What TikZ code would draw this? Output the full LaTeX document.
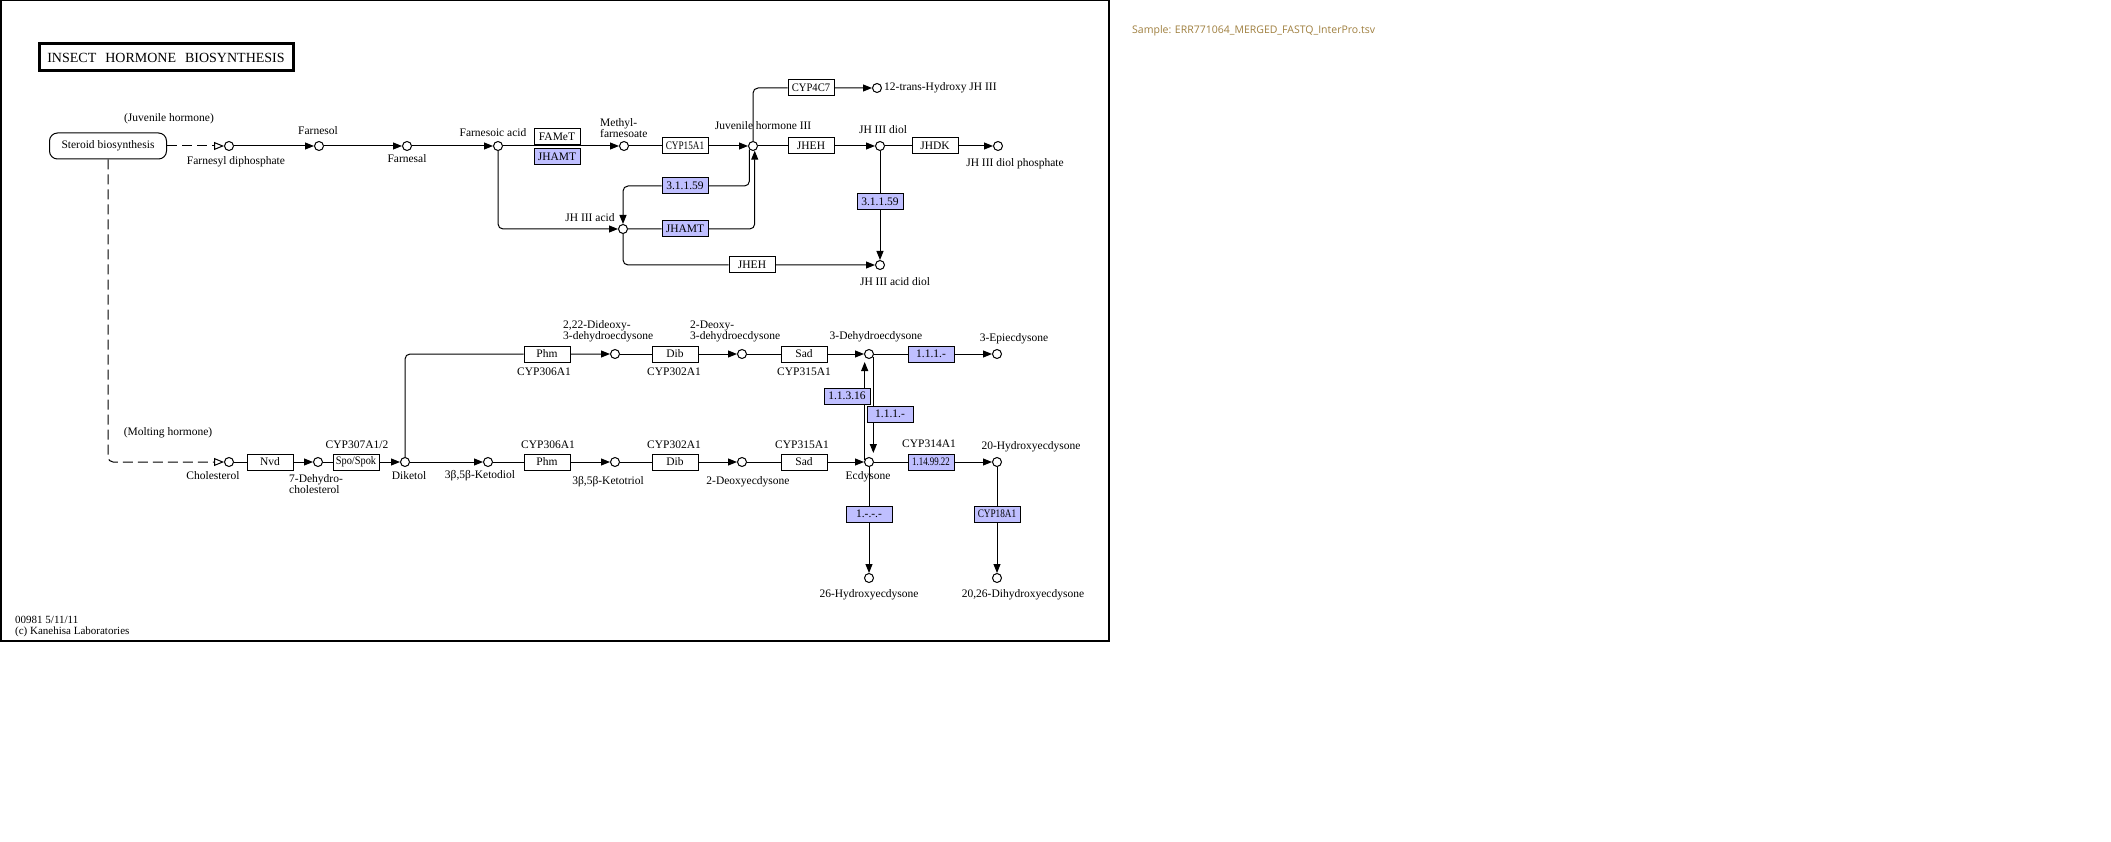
\documentclass[tikz,border=0pt]{standalone}
\usepackage{fontspec}
\setmainfont{Liberation Serif}
\newfontfamily\samplefont{Open Sans}
\usepackage{graphicx}
\usetikzlibrary{arrows.meta,backgrounds,calc}
\definecolor{hitblue}{HTML}{BFBFFF}
\definecolor{samplegold}{HTML}{9F7F3F}
\newcommand{\keggfont}{\fontsize{11.5}{11}\selectfont}
\newcommand{\squeeze}[2]{\scalebox{#1}[1]{#2}}
\tikzset{
  link/.style={line width=1pt},
  rxn/.style={link,-{Triangle[length=9pt,width=7pt]}},
  maplink/.style={link,dash pattern=on 10pt off 5pt,-{Triangle[open,length=10pt,width=8pt]}},
  cpd/.style={circle,draw,line width=1pt,fill=white,minimum size=9pt,inner sep=0pt},
  enzyme/.style={draw,line width=1pt,fill=white,minimum width=46pt,minimum height=16pt,inner sep=0pt,font=\keggfont},
  hit/.style={enzyme,fill=hitblue},
  lbl/.style={inner sep=0pt,font=\keggfont},
  mlbl/.style={lbl,align=left,anchor=west}
}
\begin{document}
\begin{tikzpicture}[x=1pt,y=-1pt]
  \useasboundingbox (0,0) rectangle (2111,842);
  \draw[line width=1.5pt] (0.75,0.75) rectangle (1109,641);
  \node[draw,line width=3pt,minimum width=254pt,minimum height=27pt,inner sep=0pt,font=\fontsize{14}{14}\selectfont] (title) at (166,57.5) {INSECT\hspace{9pt}HORMONE\hspace{9pt}BIOSYNTHESIS};
  \node[anchor=west,inner sep=0pt,font=\samplefont\fontsize{10.5}{11}\selectfont,text=samplegold] (sample) at (1132,31) {Sample: ERR771064\_MERGED\_FASTQ\_InterPro.tsv};
  \node[anchor=west,align=left,inner sep=0pt,font=\fontsize{11}{11}\selectfont] (copy) at (15,626.5) {00981 5/11/11\\(c) Kanehisa Laboratories};
  \node[draw,line width=1pt,rounded corners=8pt,minimum width=117pt,minimum height=26pt,inner sep=0pt,font=\keggfont] (steroid) at (108,146) {Steroid biosynthesis};
  % juvenile hormone branch
  \node[cpd] (fpp) at (229,146) {};
  \node[cpd] (fol) at (319,146) {};
  \node[cpd] (fal) at (407,146) {};
  \node[cpd] (faa) at (498,146) {};
  \node[cpd] (mf) at (624,146) {};
  \node[cpd] (jh) at (753,146) {};
  \node[cpd] (hjh) at (877,88) {};
  \node[cpd] (jhd) at (880,146) {};
  \node[cpd] (jhdp) at (998,146) {};
  \node[cpd] (jha) at (623,229) {};
  \node[cpd] (jhad) at (880,265) {};
  \node[enzyme] (famet) at (557,136.5) {FAMeT};
  \node[hit] (jhamt1) at (557,156.5) {JHAMT};
  \node[enzyme] (cyp15) at (685,146) {\squeeze{0.8}{CYP15A1}};
  \node[enzyme] (cyp4c7) at (811,88) {\squeeze{0.92}{CYP4C7}};
  \node[enzyme] (jheh1) at (811,146) {JHEH};
  \node[enzyme] (jhdk) at (935,146) {JHDK};
  \node[hit] (hyd1) at (685,186) {3.1.1.59};
  \node[hit] (jhamt2) at (685,229) {JHAMT};
  \node[enzyme] (jheh2) at (752,265) {JHEH};
  \node[hit] (hyd2) at (880,202) {3.1.1.59};
  \node[lbl] (l-jhbranch) at (169,119) {(Juvenile hormone)};
  \node[lbl] (l-fpp) at (236,162) {Farnesyl diphosphate};
  \node[lbl] (l-fol) at (318,131) {Farnesol};
  \node[lbl] (l-fal) at (407,159) {Farnesal};
  \node[lbl] (l-faa) at (493,133) {Farnesoic acid};
  \node[mlbl] (l-mf) at (600,128.5) {Methyl-\\farnesoate};
  \node[lbl] (l-jh) at (763,126) {Juvenile hormone III};
  \node[lbl,anchor=west] (l-hjh) at (884,88) {12-trans-Hydroxy JH III};
  \node[lbl] (l-jhd) at (883,130) {JH III diol};
  \node[lbl] (l-jhdp) at (1015,164) {JH III diol phosphate};
  \node[lbl] (l-jha) at (590,218) {JH III acid};
  \node[lbl] (l-jhad) at (895,282) {JH III acid diol};
  % molting hormone branch
  \node[cpd] (chol) at (229,462) {};
  \node[cpd] (dhc) at (318,462) {};
  \node[cpd] (dik) at (405,462) {};
  \node[cpd] (kdiol) at (488,462) {};
  \node[cpd] (ktriol) at (615,462) {};
  \node[cpd] (dec) at (742,462) {};
  \node[cpd] (ecd) at (869,462) {};
  \node[cpd] (hec) at (997,462) {};
  \node[cpd] (hec26) at (869,578) {};
  \node[cpd] (dhec) at (997,578) {};
  \node[cpd] (ddd) at (615,354) {};
  \node[cpd] (dd) at (742,354) {};
  \node[cpd] (dhe) at (869,354) {};
  \node[cpd] (epi) at (997,354) {};
  \node[enzyme] (nvd) at (270,462) {Nvd};
  \node[enzyme] (spo) at (356,462) {\squeeze{0.9}{Spo/Spok}};
  \node[enzyme] (phm1) at (547,354) {Phm};
  \node[enzyme] (dib1) at (675,354) {Dib};
  \node[enzyme] (sad1) at (804,354) {Sad};
  \node[enzyme] (phm2) at (547,462) {Phm};
  \node[enzyme] (dib2) at (675,462) {Dib};
  \node[enzyme] (sad2) at (804,462) {Sad};
  \node[hit] (red1) at (931,354) {1.1.1.-};
  \node[hit] (mono) at (931,462) {\squeeze{0.77}{1.14.99.22}};
  \node[hit] (oxi) at (847,396) {1.1.3.16};
  \node[hit] (red2) at (890,414) {1.1.1.-};
  \node[hit] (ox26) at (869,514) {1.-.-.-};
  \node[hit] (cyp18) at (997,514) {\squeeze{0.8}{CYP18A1}};
  \node[lbl] (l-mhbranch) at (168,433) {(Molting hormone)};
  \node[lbl] (l-chol) at (213,476) {Cholesterol};
  \node[mlbl] (l-dhc) at (289,484.5) {7-Dehydro-\\cholesterol};
  \node[lbl] (l-spo) at (357,445) {CYP307A1/2};
  \node[lbl] (l-dik) at (409,476) {Diketol};
  \node[lbl] (l-kdiol) at (480,476) {3β,5β-Ketodiol};
  \node[lbl] (l-phm1) at (544,372) {CYP306A1};
  \node[lbl] (l-dib1) at (674,372) {CYP302A1};
  \node[lbl] (l-sad1) at (804,372) {CYP315A1};
  \node[lbl] (l-phm2) at (548,445) {CYP306A1};
  \node[lbl] (l-dib2) at (674,445) {CYP302A1};
  \node[lbl] (l-sad2) at (802,445) {CYP315A1};
  \node[lbl] (l-ktriol) at (608,482) {3β,5β-Ketotriol};
  \node[lbl] (l-dec) at (748,482) {2-Deoxyecdysone};
  \node[lbl] (l-ecd) at (868,477) {Ecdysone};
  \node[mlbl] (l-ddd) at (563,331.5) {2,22-Dideoxy-\\3-dehydroecdysone};
  \node[mlbl] (l-dd) at (690,331.5) {2-Deoxy-\\3-dehydroecdysone};
  \node[lbl] (l-dhe) at (876,337) {3-Dehydroecdysone};
  \node[lbl] (l-epi) at (1014,339) {3-Epiecdysone};
  \node[lbl] (l-mono) at (929,444) {CYP314A1};
  \node[lbl] (l-hec) at (1031,447) {20-Hydroxyecdysone};
  \node[lbl] (l-hec26) at (869,595) {26-Hydroxyecdysone};
  \node[lbl] (l-dhec) at (1023,595) {20,26-Dihydroxyecdysone};
  \begin{scope}[on background layer,rounded corners=5pt]
    \draw[maplink] (steroid) -- (fpp);
    \draw[maplink] (steroid.south) |- (chol.west);
    \draw[rxn] (fpp) -- (fol);
    \draw[rxn] (fol) -- (fal);
    \draw[rxn] (fal) -- (faa);
    \draw[rxn] (faa) -- (mf);
    \draw[rxn] (mf) -- (cyp15) -- (jh);
    \draw[rxn] (jh.north) |- (cyp4c7) -- (hjh);
    \draw[rxn] (jh) -- (jheh1) -- (jhd);
    \draw[rxn] (jhd) -- (jhdk) -- (jhdp);
    \draw[rxn] (jhd) -- (hyd2) -- (jhad);
    \draw[rxn] (jh.-135) |- (hyd1) -| (jha.north);
    \draw[rxn] (faa.south) |- (jha.west);
    \draw[rxn] (jha) -- (jhamt2) -| (jh.-70);
    \draw[rxn] (jha.south) |- (jheh2) -- (jhad);
    \draw[rxn] (chol) -- (nvd) -- (dhc);
    \draw[rxn] (dhc) -- (spo) -- (dik);
    \draw[rxn] (dik) -- (kdiol);
    \draw[rxn] (kdiol) -- (phm2) -- (ktriol);
    \draw[rxn] (ktriol) -- (dib2) -- (dec);
    \draw[rxn] (dec) -- (sad2) -- (ecd);
    \draw[rxn] (ecd) -- (mono) -- (hec);
    \draw[rxn] (dik.north) |- (phm1) -- (ddd);
    \draw[rxn] (ddd) -- (dib1) -- (dd);
    \draw[rxn] (dd) -- (sad1) -- (dhe);
    \draw[rxn] (dhe) -- (red1) -- (epi);
    \draw[rxn,shorten >=3pt] (ecd.150) -- (ecd.150 |- dhe.south);
    \draw[rxn,shorten >=4pt] (dhe.-30) -- (dhe.-30 |- ecd.north);
    \draw[rxn] (ecd) -- (ox26) -- (hec26);
    \draw[rxn] (hec) -- (cyp18) -- (dhec);
  \end{scope}
\end{tikzpicture}
\end{document}
